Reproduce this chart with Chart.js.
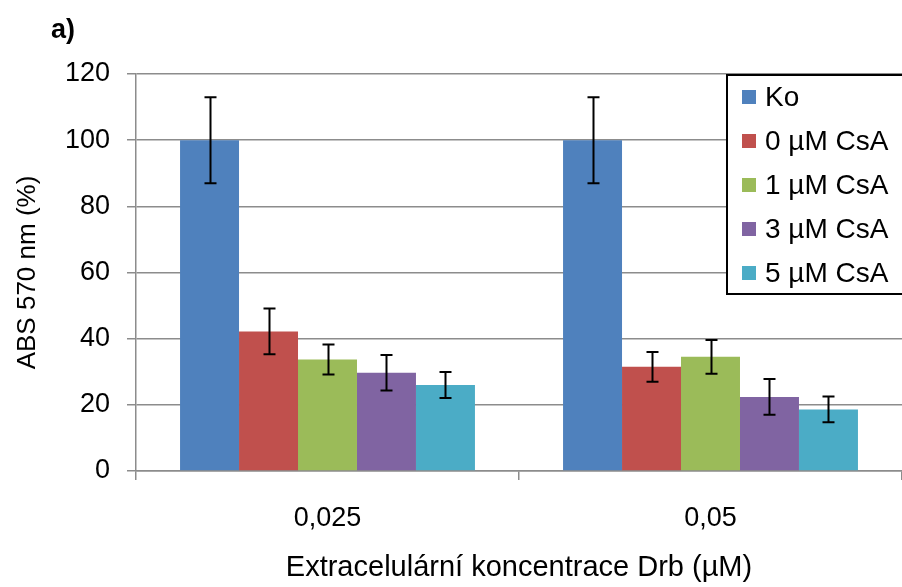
<!DOCTYPE html>
<html lang="cs">
<head>
<meta charset="utf-8">
<title>ABS 570 nm</title>
<script src="https://cdn.jsdelivr.net/npm/chart.js@4/dist/chart.umd.min.js"></script>
<style>
  html, body { margin: 0; padding: 0; background: #fff; }
  #wrap { width: 902px; height: 587px; }
</style>
</head>
<body>
<div id="wrap"><canvas id="graf" width="902" height="587"></canvas></div>
<script>
// kategorie na ose x (koncentrace Drb)
const kategorie = ["0,025", "0,05"];

// názvy sérií a jejich barvy
const serie = ["Ko", "0 µM CsA", "1 µM CsA", "3 µM CsA", "5 µM CsA"];
const barvy = ["#4F81BD", "#C0504D", "#9BBB59", "#8064A2", "#4BACC6"];

// průměry (%) pro každou sérii
const ko = [100, 100];
const csa0 = [42.2, 31.5];
const csa1 = [33.7, 34.5];
const csa3 = [29.7, 22.4];
const csa5 = [26.0, 18.6];

// směrodatné odchylky
const koErr = [13, 13];
const csa0Err = [6.9, 4.5];
const csa1Err = [4.5, 5.1];
const csa3Err = [5.4, 5.4];
const csa5Err = [3.9, 3.9];

// popisky osy y
const yTicks = [0, 20, 40, 60, 80, 100, 120];

const hodnoty = [ko, csa0, csa1, csa3, csa5];
const chyby = [koErr, csa0Err, csa1Err, csa3Err, csa5Err];

const FONT = "'Liberation Sans', Arial, sans-serif";
const GRID = "#8c8c8c";

Chart.defaults.font.family = FONT;
Chart.defaults.color = "#000";

/* error bary nad/pod každým sloupcem */
const errorBars = {
  id: "errorBars",
  afterDatasetsDraw(chart) {
    const ctx = chart.ctx;
    const y = chart.scales.y;
    ctx.save();
    ctx.strokeStyle = "#000";
    ctx.lineWidth = 2;
    chart.data.datasets.forEach((ds, i) => {
      const meta = chart.getDatasetMeta(i);
      meta.data.forEach((bar, j) => {
        const v = ds.data[j];
        const e = ds.errors[j];
        const top = y.getPixelForValue(v + e);
        const bot = y.getPixelForValue(v - e);
        const x = Math.round(bar.x) + 0.5;
        ctx.beginPath();
        ctx.moveTo(x, top);
        ctx.lineTo(x, bot);
        ctx.moveTo(x - 6, top);
        ctx.lineTo(x + 6, top);
        ctx.moveTo(x - 6, bot);
        ctx.lineTo(x + 6, bot);
        ctx.stroke();
      });
    });
    ctx.restore();
  }
};

/* legenda v rámečku vpravo nahoře + označení "a)" */
const ramecek = {
  id: "ramecek",
  afterDraw(chart) {
    const ctx = chart.ctx;
    ctx.save();

    // a)
    ctx.font = "bold 27px " + FONT;
    ctx.fillStyle = "#000";
    ctx.textBaseline = "alphabetic";
    ctx.textAlign = "left";
    ctx.fillText("a)", 51, 38);

    // rámeček legendy
    const bx = 727, by = 75, bw = 180, bh = 219;
    ctx.fillStyle = "#fff";
    ctx.fillRect(bx, by, bw, bh);
    ctx.strokeStyle = "#000";
    ctx.lineWidth = 2;
    ctx.strokeRect(bx, by, bw, bh);

    ctx.font = "28px " + FONT;
    ctx.textBaseline = "middle";
    chart.data.datasets.forEach((ds, i) => {
      const cy = 97 + i * 44;
      ctx.fillStyle = ds.backgroundColor;
      ctx.fillRect(742, cy - 7, 14, 14);
      ctx.fillStyle = "#000";
      ctx.fillText(ds.label, 765, cy + 1);
    });
    ctx.restore();
  }
};

new Chart(document.getElementById("graf"), {
  type: "bar",
  data: {
    labels: kategorie,
    datasets: serie.map((nazev, i) => ({
      label: nazev,
      data: hodnoty[i],
      errors: chyby[i],
      backgroundColor: barvy[i],
      borderWidth: 0,
      categoryPercentage: 0.77,
      barPercentage: 1.0
    }))
  },
  options: {
    responsive: false,
    animation: false,
    layout: { padding: { top: 74, left: 0, right: 0, bottom: 0 } },
    plugins: {
      legend: { display: false },
      tooltip: { enabled: false }
    },
    scales: {
      x: {
        afterFit: s => { s.height = 116; },
        grid: {
          offset: true,
          drawOnChartArea: false,
          tickLength: 9,
          color: GRID,
          lineWidth: 1.5
        },
        border: { color: GRID, width: 1.5 },
        ticks: { font: { size: 27 }, padding: 22, color: "#000" },
        title: {
          display: true,
          text: "Extracelulární koncentrace Drb (µM)",
          font: { size: 29 },
          color: "#000",
          padding: { top: 0, bottom: 2 }
        }
      },
      y: {
        min: 0,
        max: 120,
        afterFit: s => { s.width = 136; },
        afterBuildTicks: s => { s.ticks = yTicks.map(v => ({ value: v })); },
        grid: { color: GRID, lineWidth: 1.5, tickLength: 9 },
        border: { color: GRID, width: 1.5 },
        ticks: { font: { size: 27 }, padding: 17, color: "#000" },
        title: {
          display: true,
          text: "ABS 570 nm (%)",
          font: { size: 26 },
          color: "#000",
          padding: { top: 12, bottom: 0 }
        }
      }
    }
  },
  plugins: [errorBars, ramecek]
});
</script>
</body>
</html>
